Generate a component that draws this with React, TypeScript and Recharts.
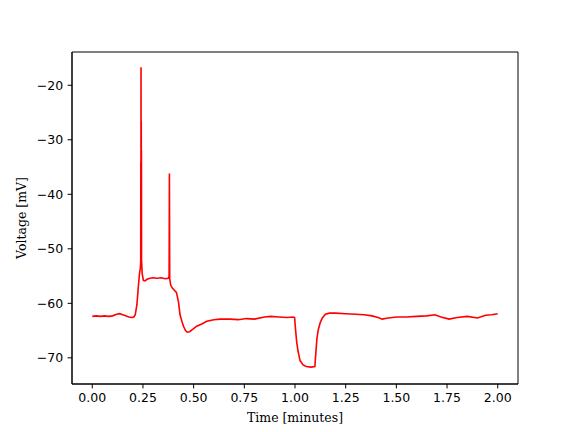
import React from 'react';
import { LineChart, Line, XAxis, YAxis, ReferenceArea } from 'recharts';

const timeMin: number[] = [
  0.000, 0.020, 0.040, 0.060, 0.080, 0.100, 0.120, 0.135, 0.150, 0.165, 0.180, 0.195, 0.205, 0.212,
  0.216, 0.220, 0.224, 0.228, 0.233, 0.237, 0.2390, 0.2395, 0.2400, 0.2405, 0.2410, 0.2415, 0.2420,
  0.2425, 0.2430, 0.2460, 0.2520, 0.260, 0.270, 0.285, 0.300, 0.320, 0.340, 0.360, 0.375, 0.379,
  0.3805, 0.382, 0.387, 0.395, 0.405, 0.415, 0.425, 0.433, 0.442, 0.450, 0.460, 0.468, 0.480, 0.495,
  0.515, 0.540, 0.565, 0.600, 0.630, 0.680, 0.720, 0.760, 0.800, 0.850, 0.880, 0.920, 0.960, 0.990,
  0.998, 1.002, 1.008, 1.015, 1.025, 1.040, 1.055, 1.080, 1.098, 1.102, 1.108, 1.115, 1.125, 1.135,
  1.150, 1.170, 1.200, 1.250, 1.300, 1.340, 1.380, 1.410, 1.430, 1.460, 1.500, 1.550, 1.600, 1.650,
  1.690, 1.720, 1.760, 1.800, 1.850, 1.900, 1.940, 1.970, 2.000,
];

const voltageMv: number[] = [
  -62.4, -62.3, -62.4, -62.3, -62.4, -62.3, -62.0, -61.9, -62.1, -62.3, -62.5, -62.6, -62.5, -62.1,
  -61.2, -60.3, -58.5, -56.6, -54.5, -53.6, -52.5, -34.1, -52.0, -16.7, -37.2, -26.5, -37.0,
  -31.9, -52.0, -54.5, -55.8, -55.9, -55.6, -55.4, -55.3, -55.4, -55.3, -55.5, -55.4, -55.0,
  -36.2, -55.5, -56.7, -57.2, -57.6, -58.0, -59.7, -62.1, -63.3, -64.2, -65.0, -65.3, -65.2, -64.8,
  -64.2, -63.8, -63.3, -63.0, -62.9, -62.9, -63.0, -62.8, -62.9, -62.5, -62.4, -62.5, -62.6, -62.5,
  -62.6, -64.5, -67.0, -68.8, -70.5, -71.3, -71.6, -71.7, -71.6, -69.5, -66.5, -64.8, -63.5, -62.7,
  -62.0, -61.8, -61.8, -61.9, -62.0, -62.1, -62.3, -62.6, -62.9, -62.7, -62.5, -62.5, -62.4, -62.3,
  -62.1, -62.5, -62.9, -62.6, -62.4, -62.7, -62.2, -62.1, -61.9,
];

const xTicks: number[] = [0, 0.25, 0.5, 0.75, 1.0, 1.25, 1.5, 1.75, 2.0];
const yTicks: number[] = [-70, -60, -50, -40, -30, -20];
const xDomain: [number, number] = [-0.1, 2.1];
const yDomain: [number, number] = [-74.8, -13.9];

const data = timeMin.map((t, i) => ({ t, v: voltageMv[i] }));

const tickFont = { fontFamily: 'DejaVu Sans', fontSize: 12.5, fill: '#000' };
const labelFont = { fontFamily: 'DejaVu Serif', fontSize: 12.5, fill: '#000' };

const fmtY = (v: number) => (v < 0 ? '\u2212' + Math.abs(v) : String(v));

export default function App() {
  return (
    <div style={{ position: 'absolute', left: 0, top: 0 }}>
      <LineChart
        width={576}
        height={432}
        data={data}
        margin={{ top: 52, right: 58, bottom: 0, left: 0 }}
      >
        <XAxis
          dataKey="t"
          type="number"
          domain={xDomain}
          allowDataOverflow
          ticks={xTicks}
          tickFormatter={(v: number) => v.toFixed(2)}
          tick={tickFont}
          tickSize={4.4}
          tickMargin={4.4}
          height={48}
          axisLine={{ stroke: '#000', strokeWidth: 1 }}
          tickLine={{ stroke: '#000' }}
          label={{
            content: (props: any) => {
              const vb = props.viewBox || {};
              return (
                <text x={vb.x + vb.width / 2} y={vb.y + 38} textAnchor="middle" style={labelFont}>
                  Time [minutes]
                </text>
              );
            },
          }}
        />
        <YAxis
          type="number"
          domain={yDomain}
          allowDataOverflow
          ticks={yTicks}
          tickFormatter={fmtY}
          tick={tickFont}
          tickSize={4.4}
          tickMargin={4.4}
          width={72}
          axisLine={{ stroke: '#000', strokeWidth: 1 }}
          tickLine={{ stroke: '#000' }}
          label={{
            content: (props: any) => {
              const vb = props.viewBox || {};
              const cx = vb.x + 26;
              const cy = vb.y + vb.height / 2;
              return (
                <text
                  x={cx}
                  y={cy}
                  textAnchor="middle"
                  transform={`rotate(-90, ${cx}, ${cy})`}
                  style={labelFont}
                >
                  Voltage [mV]
                </text>
              );
            },
          }}
        />
        <ReferenceArea
          x1={xDomain[0]}
          x2={xDomain[1]}
          y1={yDomain[0]}
          y2={yDomain[1]}
          fill="none"
          fillOpacity={0}
          stroke="#000"
          strokeWidth={1}
          ifOverflow="visible"
        />
        <Line
          type="linear"
          dataKey="v"
          stroke="#ff0000"
          strokeWidth={1.6}
          dot={false}
          isAnimationActive={false}
        />
      </LineChart>
    </div>
  );
}
